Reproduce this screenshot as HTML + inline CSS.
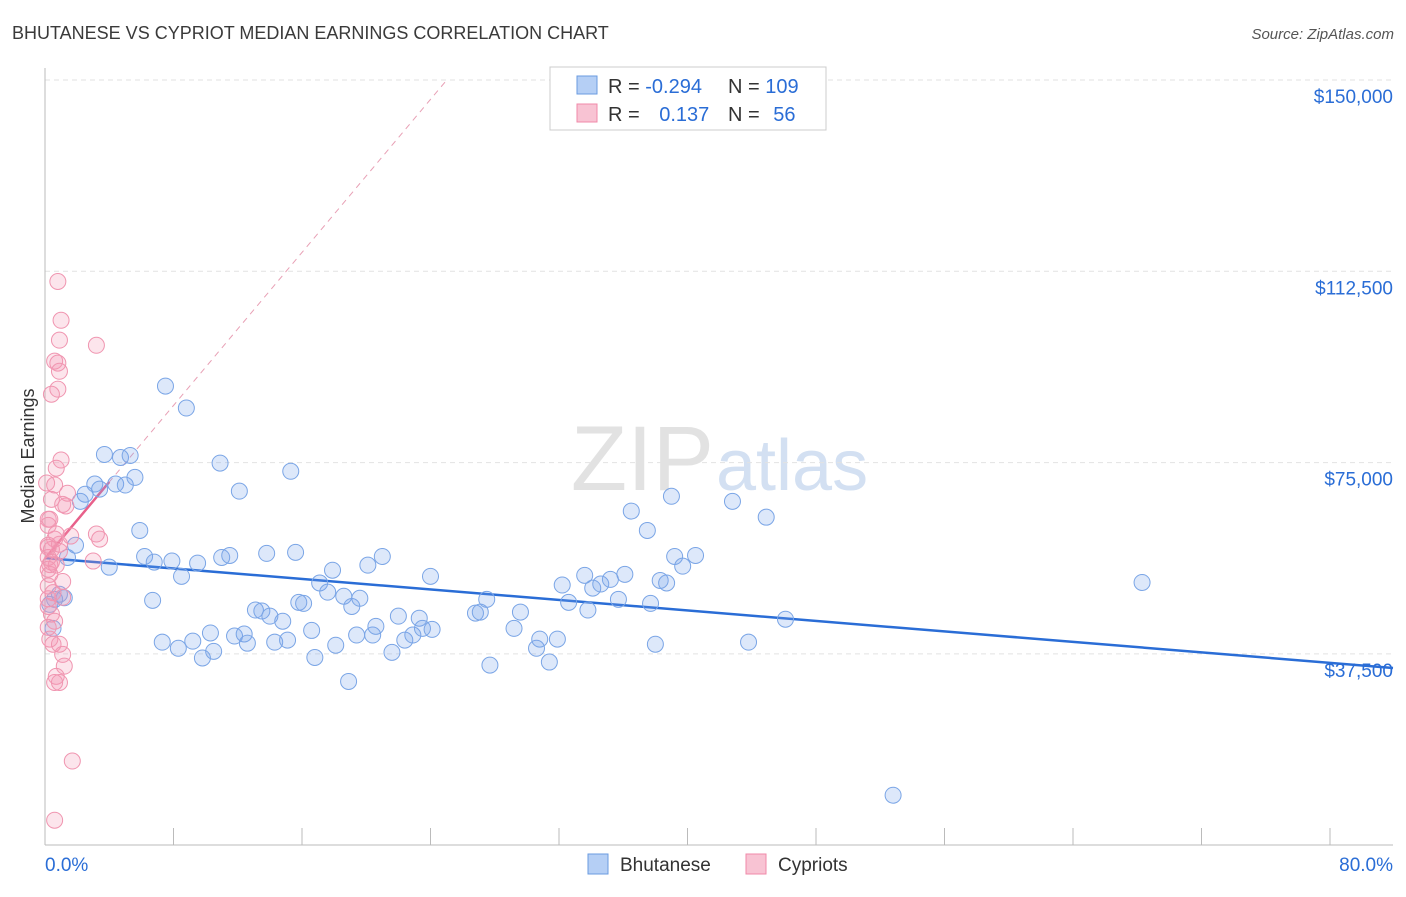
<!DOCTYPE html>
<html><head><meta charset="utf-8"><style>
body{margin:0;background:#fff;font-family:"Liberation Sans",sans-serif;}
svg text{font-family:"Liberation Sans",sans-serif;}
</style></head><body>
<svg id="chart" width="1406" height="892">
<text x="12" y="39" font-size="18" fill="#3a3a3a">BHUTANESE VS CYPRIOT MEDIAN EARNINGS CORRELATION CHART</text>
<text x="1394" y="39" font-size="15" fill="#555" font-style="italic" text-anchor="end">Source: ZipAtlas.com</text>
<text x="714" y="490" font-size="92" fill="#e2e2e2" text-anchor="end" font-family="Liberation Serif">ZIP</text>
<text x="716" y="490" font-size="72" fill="#d3e0f2">atlas</text>
<g id="grid"></g><g id="axes"></g><g id="trend"></g><g id="pts"></g>
<text transform="translate(34,456) rotate(-90)" font-size="18" fill="#333" text-anchor="middle">Median Earnings</text>
<g>
<rect x="550" y="67" width="276" height="63" fill="#fff" stroke="#ccc"/>
<rect x="577" y="76" width="20" height="18" fill="#b5cff5" stroke="#6a9be0"/>
<rect x="577" y="104" width="20" height="18" fill="#f8c3d3" stroke="#f08aa8"/>
<text x="608" y="93" font-size="20" fill="#333">R = <tspan fill="#2a6dd6">-0.294</tspan></text>
<text x="728" y="93" font-size="20" fill="#333">N = <tspan fill="#2a6dd6">109</tspan></text>
<text x="608" y="121" font-size="20" fill="#333">R = <tspan fill="#2a6dd6" dx="14">0.137</tspan></text>
<text x="728" y="121" font-size="20" fill="#333">N = <tspan fill="#2a6dd6" dx="8">56</tspan></text>
</g>
<g>
<rect x="588" y="854" width="20" height="20" fill="#b5cff5" stroke="#6a9be0"/>
<text x="620" y="871" font-size="19" fill="#333">Bhutanese</text>
<rect x="746" y="854" width="20" height="20" fill="#f8c3d3" stroke="#f08aa8"/>
<text x="778" y="871" font-size="19" fill="#333">Cypriots</text>
</g>
</svg>
<script>
const yTicks=[150000,112500,75000,37500];
const yTickLabels=["$150,000","$112,500","$75,000","$37,500"];
const xTickLabels=["0.0%","80.0%"];
const blueX=[7.5,8.8,10.9,15.3,12.1,3.7,4.7,5.3,3.1,4.4,5.0,5.6,3.4,2.5,2.2,5.9,1.9,1.4,0.9,0.6,0.3,4.0,6.2,6.8,7.9,8.5,9.5,11.0,11.5,13.8,15.6,17.9,6.7,7.3,8.3,9.2,9.8,10.3,10.5,11.8,12.4,12.6,13.1,13.5,14.0,14.3,14.8,15.1,15.8,16.1,16.6,16.8,17.1,17.6,18.1,18.6,19.1,19.6,19.4,18.9,20.4,20.6,20.1,21.0,21.6,22.0,22.4,22.9,23.3,23.5,24.1,24.0,26.8,27.1,27.5,27.7,29.2,29.6,30.6,30.8,31.4,31.9,32.2,32.6,33.6,33.8,34.1,34.6,35.2,35.7,36.1,36.5,37.5,37.7,38.0,38.3,38.7,39.0,39.2,39.7,40.5,42.8,43.8,44.9,46.1,52.8,68.3,0.5,1.2];
const blueY=[90.0,85.7,74.9,73.3,69.4,76.6,76.0,76.4,70.8,70.8,70.6,72.1,69.8,68.8,67.4,61.7,58.8,56.4,49.2,48.2,47.2,54.5,56.6,55.5,55.7,52.7,55.3,56.4,56.8,57.2,57.4,53.9,48.0,39.8,38.6,40.0,36.7,41.6,38.0,41.0,41.4,39.6,46.1,45.9,44.9,39.8,43.9,40.2,47.6,47.4,42.1,36.8,51.4,49.6,39.2,48.8,46.8,48.4,41.2,32.1,41.2,42.9,54.9,56.6,37.8,44.9,40.2,41.2,44.5,42.5,42.3,52.7,45.5,45.7,48.2,35.3,42.5,45.7,38.6,40.4,35.9,40.4,51.0,47.6,52.9,46.1,50.4,51.2,52.1,48.2,53.1,65.5,61.7,47.4,39.4,51.9,51.4,68.4,56.6,54.7,56.8,67.4,39.8,64.3,44.3,9.8,51.5,42.5,48.5];
const pinkX=[0.8,1.0,0.9,3.2,0.6,0.8,0.9,0.8,0.4,1.0,0.7,0.6,1.4,0.4,1.1,0.2,0.2,3.2,3.4,1.6,0.6,0.9,0.2,0.4,0.9,0.2,3.0,0.4,0.7,0.2,0.3,1.1,0.2,1.1,0.2,0.4,0.6,0.2,0.3,0.5,1.1,1.2,0.7,0.9,0.6,1.7,0.6,0.2,0.3,0.7,1.3,0.2,0.5,0.9,0.3,0.1];
const pinkY=[110.5,102.9,99.0,98.0,94.9,94.5,92.9,89.4,88.4,75.5,73.9,70.6,69.0,67.8,66.8,63.9,62.7,61.0,60.0,60.6,60.0,59.0,58.4,58.0,57.6,56.4,55.7,55.5,54.9,54.1,53.1,51.7,50.8,48.6,46.8,45.3,43.9,42.7,40.4,39.4,37.4,35.1,33.1,31.9,31.9,16.5,4.9,48.3,55.0,61.0,66.5,58.8,49.5,39.4,63.9,71.0];
const blueTrend=[56.3,-0.257];
const pinkTrend=[56.2,3.75];
const NS="http://www.w3.org/2000/svg";
const sx=p=>45+p*(1285/80), sy=k=>80+(150-k)*(191.3/37.5);
function mk(tag,attrs,parent){const e=document.createElementNS(NS,tag);for(const k in attrs)e.setAttribute(k,attrs[k]);document.getElementById(parent).appendChild(e);return e;}
yTicks.forEach((v,i)=>{
 const g=mk('line',{x1:45,x2:1393,y1:sy(v/1000),y2:sy(v/1000),stroke:'#e2e2e2','stroke-dasharray':'5,4'},'grid');
 
 
 const t=mk('text',{x:1393,y:sy(v/1000)+23,'font-size':19,fill:'#2a6dd6','text-anchor':'end'},'grid');
 t.textContent=yTickLabels[i];
 
 
});
mk('line',{x1:45,x2:45,y1:68,y2:845,stroke:'#bbb'},'axes');
mk('line',{x1:45,x2:1393,y1:845,y2:845,stroke:'#bbb'},'axes');
for(let i=1;i<=10;i++){const tk=mk('line',{x1:sx(i*8),x2:sx(i*8),y1:828,y2:845,stroke:'#bbb'},'axes');
 
 }
[[0,'start',45],[1,'end',1393]].forEach(([i,a,x])=>{const t=mk('text',{x:x,y:871,'font-size':19,fill:'#2a6dd6','text-anchor':a},'axes');t.textContent=xTickLabels[i];
 
 });
const bl=mk('line',{x1:sx(0),y1:sy(blueTrend[0]),x2:1393,y2:sy(blueTrend[0]+blueTrend[1]*83.9),stroke:'#2a6dd6','stroke-width':2.5},'trend');


const xEnd=(150-pinkTrend[0])/pinkTrend[1];
const pd=mk('line',{x1:sx(0),y1:sy(pinkTrend[0]),x2:sx(xEnd),y2:sy(150),stroke:'#e8a0b5','stroke-width':1,'stroke-dasharray':'6,5'},'trend');


const ps=mk('line',{x1:sx(0),y1:sy(pinkTrend[0]),x2:sx(4),y2:sy(pinkTrend[0]+pinkTrend[1]*4),stroke:'#e8608a','stroke-width':2.5},'trend');


blueX.forEach((x,i)=>{const c=mk('circle',{cx:sx(x),cy:sy(blueY[i]),r:8,fill:'rgba(120,165,235,0.25)',stroke:'#7aa5e6','stroke-width':1},'pts');
 
 });
pinkX.forEach((x,i)=>{const c=mk('circle',{cx:sx(x),cy:sy(pinkY[i]),r:8,fill:'rgba(245,150,180,0.25)',stroke:'#f095b0','stroke-width':1},'pts');
 
 });
</script>
</body></html>
